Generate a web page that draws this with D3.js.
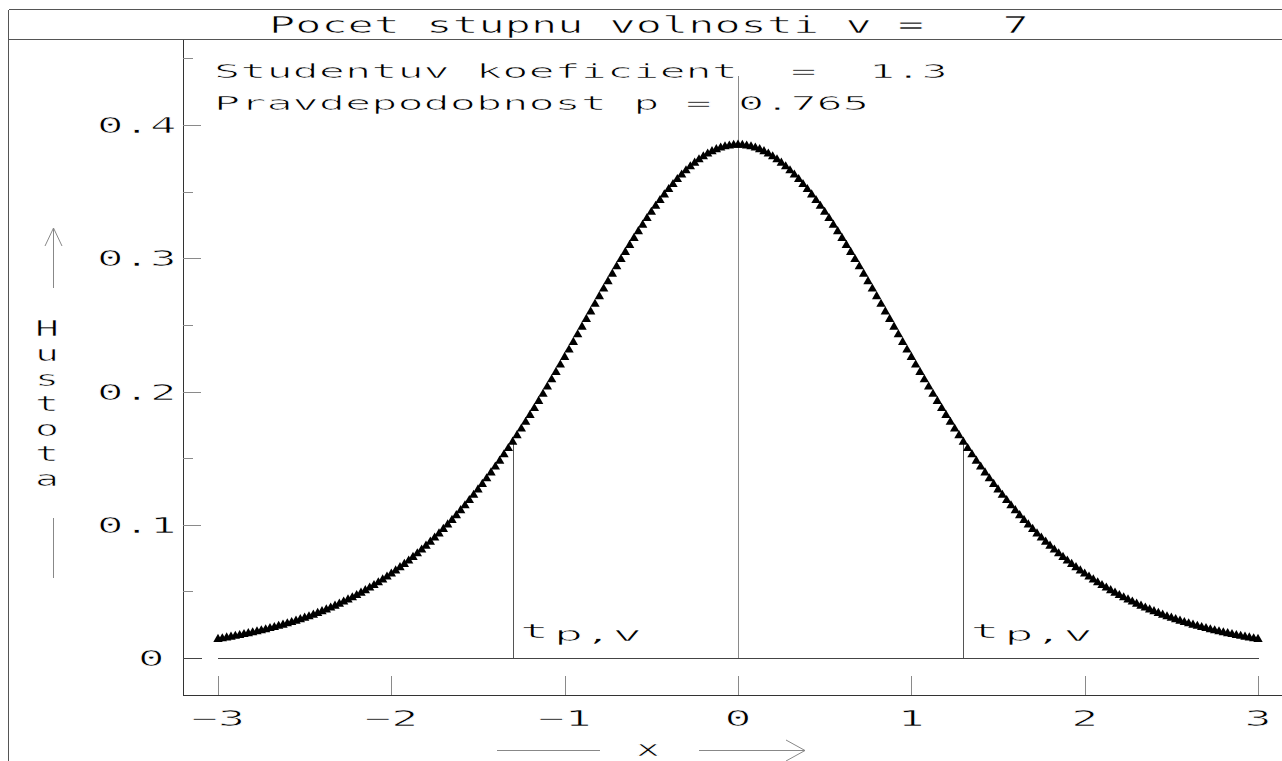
<!DOCTYPE html>
<html>
<head>
<meta charset="utf-8">
<script src="https://cdn.jsdelivr.net/npm/d3@7"></script>
<style>
  html, body { margin: 0; padding: 0; background: #fff; overflow: hidden; }
  text { font-family: "DejaVu Sans Mono", "Liberation Mono", monospace; fill: #000; white-space: pre;
         stroke: #fff; stroke-width: 0.6px; }
  line, path.rule { shape-rendering: crispEdges; }
</style>
</head>
<body>
<svg id="chart" width="1282" height="761"></svg>
<script>
// Student t density, 7 degrees of freedom
const degreesOfFreedom = 7;
const studentCoefficient = 1.3;
const probability = 0.765;

// sample grid: x runs from gridStart in steps of gridStep
const gridStart = -3;
const gridStep = 0.025;
const density = [
  0.0141, 0.0146, 0.0152, 0.0158, 0.0164, 0.0170, 0.0177, 0.0184, 0.0191, 0.0198,
  0.0206, 0.0213, 0.0222, 0.0230, 0.0239, 0.0248, 0.0258, 0.0268, 0.0278, 0.0289,
  0.0300, 0.0311, 0.0323, 0.0336, 0.0349, 0.0362, 0.0376, 0.0390, 0.0405, 0.0421,
  0.0437, 0.0453, 0.0470, 0.0488, 0.0507, 0.0526, 0.0545, 0.0566, 0.0587, 0.0609,
  0.0631, 0.0655, 0.0679, 0.0704, 0.0729, 0.0756, 0.0783, 0.0812, 0.0841, 0.0871,
  0.0902, 0.0933, 0.0966, 0.1000, 0.1034, 0.1070, 0.1107, 0.1144, 0.1183, 0.1222,
  0.1263, 0.1304, 0.1346, 0.1390, 0.1434, 0.1479, 0.1526, 0.1573, 0.1621, 0.1670,
  0.1720, 0.1770, 0.1822, 0.1874, 0.1927, 0.1980, 0.2035, 0.2089, 0.2145, 0.2200,
  0.2257, 0.2313, 0.2370, 0.2427, 0.2484, 0.2542, 0.2599, 0.2656, 0.2713, 0.2770,
  0.2826, 0.2882, 0.2937, 0.2992, 0.3045, 0.3098, 0.3150, 0.3201, 0.3250, 0.3299,
  0.3346, 0.3391, 0.3435, 0.3477, 0.3517, 0.3555, 0.3592, 0.3626, 0.3658, 0.3688,
  0.3715, 0.3740, 0.3763, 0.3783, 0.3801, 0.3816, 0.3828, 0.3838, 0.3844, 0.3849,
  0.3850,
  0.3849, 0.3844, 0.3838, 0.3828, 0.3816, 0.3801, 0.3783, 0.3763, 0.3740, 0.3715,
  0.3688, 0.3658, 0.3626, 0.3592, 0.3555, 0.3517, 0.3477, 0.3435, 0.3391, 0.3346,
  0.3299, 0.3250, 0.3201, 0.3150, 0.3098, 0.3045, 0.2992, 0.2937, 0.2882, 0.2826,
  0.2770, 0.2713, 0.2656, 0.2599, 0.2542, 0.2484, 0.2427, 0.2370, 0.2313, 0.2257,
  0.2200, 0.2145, 0.2089, 0.2035, 0.1980, 0.1927, 0.1874, 0.1822, 0.1770, 0.1720,
  0.1670, 0.1621, 0.1573, 0.1526, 0.1479, 0.1434, 0.1390, 0.1346, 0.1304, 0.1263,
  0.1222, 0.1183, 0.1144, 0.1107, 0.1070, 0.1034, 0.1000, 0.0966, 0.0933, 0.0902,
  0.0871, 0.0841, 0.0812, 0.0783, 0.0756, 0.0729, 0.0704, 0.0679, 0.0655, 0.0631,
  0.0609, 0.0587, 0.0566, 0.0545, 0.0526, 0.0507, 0.0488, 0.0470, 0.0453, 0.0437,
  0.0421, 0.0405, 0.0390, 0.0376, 0.0362, 0.0349, 0.0336, 0.0323, 0.0311, 0.0300,
  0.0289, 0.0278, 0.0268, 0.0258, 0.0248, 0.0239, 0.0230, 0.0222, 0.0213, 0.0206,
  0.0198, 0.0191, 0.0184, 0.0177, 0.0170, 0.0164, 0.0158, 0.0152, 0.0146, 0.0141
];

// critical value markers at -t and +t, with the density there
const criticalX = [-1.3, 1.3];
const criticalDensity = 0.1621;
const criticalLabel = ["t", "p,v"];
const centerLineTop = 0.437;

const xTicks = [-3, -2, -1, 0, 1, 2, 3];
const xTickLabels = ["−3", "−2", "−1", "0", "1", "2", "3"];
const yTicks = [0, 0.1, 0.2, 0.3, 0.4];
const yTickLabels = ["0", "0.1", "0.2", "0.3", "0.4"];
const yMinorTicks = [0.05, 0.15, 0.25, 0.35, 0.45];
const yAxisTitle = "Hustota";
const xAxisTitle = "x";

const titleText = `Pocet stupnu volnosti v =   ${degreesOfFreedom}`;
const coefText = `Studentuv koeficient  =  ${studentCoefficient}`;
const probText = `Pravdepodobnost p = ${probability}`;

const svg = d3.select("#chart");
const W = 1282, H = 761;

const x = d3.scaleLinear().domain([-3, 3]).range([218, 1258]);
const y = d3.scaleLinear().domain([0, 0.4]).range([658, 125]);

const axisX = 183, axisY = 695;
const pitch = 26.2;

// monospace text stretched to a fixed character pitch
function cellText(parent, str, px, py, fs, opts = {}) {
  return parent.append("text")
    .attr("x", px).attr("y", py)
    .attr("font-size", fs)
    .attr("text-anchor", opts.anchor || "start")
    .attr("xml:space", "preserve")
    .attr("textLength", str.length * (opts.pitch || pitch))
    .attr("lengthAdjust", "spacingAndGlyphs")
    .text(str);
}

const frame = svg.append("g").attr("stroke", "#555").attr("stroke-width", 1);
frame.append("line").attr("x1", 8.5).attr("x2", W).attr("y1", 9.5).attr("y2", 9.5);
frame.append("line").attr("x1", 8.5).attr("x2", W).attr("y1", 39.5).attr("y2", 39.5);
frame.append("line").attr("x1", 8.5).attr("x2", 8.5).attr("y1", 9.5).attr("y2", H);

// title
cellText(svg, titleText, 269, 33, 23);

// plot axes
const axes = svg.append("g").attr("stroke", "#333");
axes.append("line").attr("x1", axisX + 0.5).attr("x2", axisX + 0.5).attr("y1", 39.5).attr("y2", axisY + 0.5);
axes.append("line").attr("x1", axisX + 0.5).attr("x2", W).attr("y1", axisY + 0.5).attr("y2", axisY + 0.5);

// x ticks pointing up into the plot
const gx = svg.append("g").attr("transform", `translate(0,${axisY})`)
  .call(d3.axisBottom(x).tickValues(xTicks).tickSizeInner(-19).tickSizeOuter(0).tickFormat(""));
gx.select(".domain").remove();
gx.selectAll(".tick line").attr("stroke", "#8a8a8a");

// y ticks pointing right into the plot
const gy = svg.append("g").attr("transform", `translate(${axisX},0)`)
  .call(d3.axisLeft(y).tickValues(yTicks).tickSizeInner(-18).tickSizeOuter(0).tickFormat(""));
gy.select(".domain").remove();
gy.selectAll(".tick line").attr("stroke", "#8a8a8a");
const gyMinor = svg.append("g").attr("transform", `translate(${axisX},0)`)
  .call(d3.axisLeft(y).tickValues(yMinorTicks).tickSizeInner(-10).tickSizeOuter(0).tickFormat(""));
gyMinor.select(".domain").remove();
gyMinor.selectAll(".tick line").attr("stroke", "#8a8a8a");

// tick labels
xTicks.forEach((v, i) => {
  cellText(svg, xTickLabels[i], x(v), 726, 21, { anchor: "middle", pitch: 27 });
});
yTicks.forEach((v, i) => {
  const lbl = yTickLabels[i];
  const lx = lbl.length === 1 ? 138 : 97;
  cellText(svg, lbl, lx, y(v) + 8, 21, { pitch: 26.5 });
});

// zero line
const zero = svg.append("g").attr("stroke", "#444");
zero.append("line").attr("x1", axisX).attr("x2", x(gridStart) - 16)
  .attr("y1", y(0) + 0.5).attr("y2", y(0) + 0.5);
zero.append("line").attr("x1", x(gridStart)).attr("x2", x(3) + 1)
  .attr("y1", y(0) + 0.5).attr("y2", y(0) + 0.5);

// centre line
svg.append("line")
  .attr("x1", x(0) + 0.5).attr("x2", x(0) + 0.5)
  .attr("y1", y(centerLineTop)).attr("y2", y(0))
  .attr("stroke", "#8a8a8a");

// critical value lines and labels
criticalX.forEach(cx => {
  svg.append("line")
    .attr("x1", x(cx) + 0.5).attr("x2", x(cx) + 0.5)
    .attr("y1", y(criticalDensity)).attr("y2", y(0))
    .attr("stroke", "#555");
  const lx = x(cx) + 7;
  cellText(svg, criticalLabel[0], lx, 638, 19, { pitch: 29.5 });
  cellText(svg, criticalLabel[1], lx + 34, 641, 19, { pitch: 29.5 });
});

// density curve drawn as triangle markers
const tri = d3.symbol().type(d3.symbolTriangle).size(38);
svg.append("g").selectAll("path")
  .data(density)
  .join("path")
  .attr("d", tri)
  .attr("transform", (d, i) => `translate(${x(gridStart + i * gridStep)},${y(d)})`)
  .attr("fill", "#000");

// coefficient and probability
cellText(svg, coefText, 214, 78, 19);
cellText(svg, probText, 214, 110, 19);

// y axis title: stacked letters with arrow above and line below
const yt = svg.append("g");
yAxisTitle.split("").forEach((ch, i) => {
  cellText(yt, ch, 47, 336 + i * 25, 21, { anchor: "middle", pitch: 24 });
});
const arrows = svg.append("g").attr("stroke", "#888").attr("fill", "none");
arrows.append("line").attr("x1", 53.5).attr("x2", 53.5).attr("y1", 228).attr("y2", 288);
arrows.append("path").attr("d", "M45,246 L53.5,228 L62,246");
arrows.append("line").attr("x1", 53.5).attr("x2", 53.5).attr("y1", 518).attr("y2", 578);

// x axis title with arrow
cellText(svg, xAxisTitle, 648, 756, 21, { anchor: "middle", pitch: 24 });
arrows.append("line").attr("x1", 497).attr("x2", 600).attr("y1", 750.5).attr("y2", 750.5);
arrows.append("line").attr("x1", 699).attr("x2", 805).attr("y1", 750.5).attr("y2", 750.5);
arrows.append("path").attr("d", "M786,740 L805,750.5 L786,761");
</script>
</body>
</html>
